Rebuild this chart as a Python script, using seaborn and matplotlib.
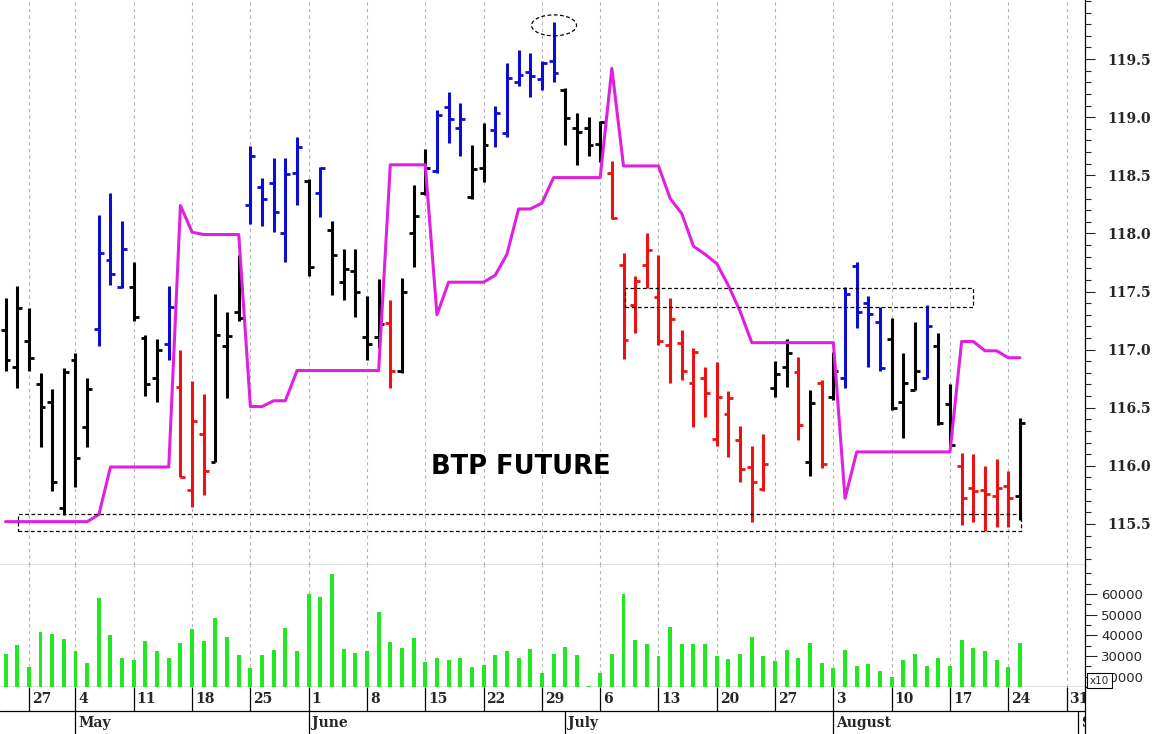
import numpy as np
import pandas as pd
import seaborn as sns
import matplotlib.pyplot as plt
from matplotlib.patches import Rectangle, Ellipse
from matplotlib.ticker import MultipleLocator

# trading calendar: 1 May closed, bars run 23 Apr .. 25 Aug
CALENDAR = pd.bdate_range('2015-04-23', '2015-09-04').drop(pd.Timestamp('2015-05-01'))

OPEN = [117.17, 116.85, 117.07, 116.70, 116.55, 115.64, 116.91, 116.33,
        117.18, 117.77, 117.54, 117.54, 117.10, 116.76, 117.05,
        116.68, 115.79, 116.27, 116.03, 117.03, 117.32,
        118.24, 118.40, 118.43, 118.00, 118.52, 118.45, 118.35,
        118.03, 117.58, 117.68, 117.11, 117.11, 117.23,
        116.82, 118.00, 118.35,
        118.54, 119.09, 118.91, 118.31, 118.56,
        118.89, 118.86, 119.30, 119.39, 119.33, 119.48,
        119.23, 118.91, 118.91, 118.77,
        118.52, 117.73, 117.38, 117.73, 117.45, 117.04, 117.06, 116.71, 116.76,
        116.23, 116.45, 116.22, 115.99, 115.80,
        116.67, 116.85, 116.81, 116.03, 116.71, 116.59,
        116.76, 117.72, 117.40, 117.24, 117.09, 116.55, 116.65, 116.76,
        117.03, 116.53,
        116.00, 115.81, 115.79, 115.74, 115.83, 115.74]
HIGH = [117.44, 117.55, 117.36, 116.80, 116.66, 116.84, 116.97, 116.76,
        118.16, 118.35, 118.11, 117.75, 117.13, 117.09, 117.55,
        117.00, 116.73, 116.62, 117.48, 117.32, 117.81,
        118.75, 118.48, 118.65, 118.65, 118.83, 118.47, 118.57,
        118.11, 117.87, 117.87, 117.46, 117.61, 117.43,
        117.62, 118.42, 118.73,
        119.06, 119.22, 119.12, 118.76, 118.95,
        119.10, 119.47, 119.58, 119.55, 119.48, 119.82,
        119.25, 119.04, 119.00, 118.97,
        118.62, 117.83, 117.63, 118.00, 117.81, 117.44, 117.17, 117.01, 116.85,
        116.89, 116.64, 116.34, 116.17, 116.27,
        116.90, 117.09, 116.94, 116.65, 116.74, 116.98,
        117.54, 117.75, 117.46, 117.37, 117.27, 116.97, 117.24, 117.38,
        117.14, 116.70,
        116.11, 116.10, 116.00, 116.06, 115.96, 116.41]
LOW = [116.82, 116.67, 116.82, 116.16, 115.78, 115.58, 115.82, 116.16,
       117.03, 117.56, 117.53, 117.25, 116.60, 116.55, 116.91,
       115.90, 115.65, 115.75, 116.03, 116.58, 117.25,
       118.08, 118.06, 118.01, 117.75, 118.24, 117.63, 118.14,
       117.47, 117.43, 117.28, 116.91, 117.01, 116.67,
       116.80, 117.71, 118.33,
       118.52, 118.78, 118.67, 118.30, 118.44,
       118.74, 118.83, 119.27, 119.17, 119.23, 119.30,
       118.76, 118.59, 118.67, 118.61,
       118.12, 116.92, 117.14, 117.53, 117.04, 116.71, 116.74, 116.33, 116.42,
       116.17, 116.08, 115.86, 115.52, 115.78,
       116.59, 116.68, 116.22, 115.91, 115.98, 116.57,
       116.67, 117.19, 116.85, 116.82, 116.48, 116.24, 116.65, 116.76,
       116.35, 116.18,
       115.49, 115.52, 115.44, 115.47, 115.47, 115.53]
CLOSE = [116.91, 117.36, 116.93, 116.51, 115.86, 116.81, 116.07, 116.66,
         117.83, 117.65, 117.87, 117.28, 116.70, 117.00, 117.37,
         115.90, 116.39, 115.96, 117.13, 117.12, 117.27,
         118.67, 118.30, 118.18, 118.51, 118.74, 117.71, 118.56,
         117.81, 117.69, 117.50, 117.05, 117.22, 116.82,
         117.50, 118.15, 118.56,
         119.02, 118.98, 118.98, 118.55, 118.76,
         119.04, 119.34, 119.36, 119.35, 119.47, 119.38,
         118.99, 118.87, 118.76, 118.96,
         118.13, 117.08, 117.59, 117.86, 117.07, 117.26, 116.82, 116.98, 116.63,
         116.59, 116.58, 115.97, 115.86, 116.02,
         116.79, 116.97, 116.35, 116.54, 116.02, 116.82,
         117.48, 117.32, 117.31, 116.84, 116.50, 116.71, 116.82, 117.20,
         116.37, 116.18,
         115.72, 115.78, 115.76, 115.81, 115.72, 116.37]
# k = neutral, b = up signal, r = down signal
BAR_STATE = list('kkkkkkkk' 'bbbkkkb' 'rrrkkk' 'bbbbbkb' 'kkkkkr' 'kkk' 'bbbkk'
                 'bbbbbb' 'kkkk' 'rrrrrrrrrrrrrr' 'kkrkrk' 'bbbbkkkb' 'kk' 'rrrrrk')
STOP_LINE = [115.52] * 8 + [115.58] + [115.99] * 6 + [118.24, 118.01] + [117.99] * 4 + \
            [116.51, 116.51, 116.56, 116.56] + [116.82] * 8 + [118.59] * 4 + [117.30] + \
            [117.58] * 4 + [117.64, 117.82, 118.21, 118.21, 118.26] + [118.48] * 5 + \
            [119.42] + [118.58] * 4 + [118.30, 118.17, 117.89, 117.82, 117.74, 117.55, 117.33] + \
            [117.06] * 8 + [115.72] + [116.12] * 9 + [117.07, 117.07, 116.99, 116.99, 116.93, 116.93]
VOLUME = [31000, 35200, 24800, 41600, 40700, 38100, 32600, 26800,
          57900, 40000, 29000, 28100, 37400, 32400, 29000,
          36400, 42900, 37300, 48400, 39000, 30300,
          24300, 30300, 32900, 43600, 32400, 60000, 58700,
          69700, 33200, 31600, 32600, 51100, 36600,
          33700, 38700, 27000,
          29000, 28200, 29000, 24800, 25500,
          30300, 32600, 29000, 33200, 21900, 30800,
          34400, 30300, 15700, 21900,
          30800, 59900, 37800, 35700, 30200, 43900, 35700, 35700, 35700,
          30000, 28400, 30800, 39000, 30200,
          27600, 32900, 28900, 36400, 26500, 24100,
          32900, 25200, 26000, 22800, 19700, 28100, 30800, 25300,
          28900, 25300,
          37800, 33700, 32400, 28100, 24500, 36400]
PRICE_TICKS = [115.5, 116.0, 116.5, 117.0, 117.5, 118.0, 118.5, 119.0, 119.5]
VOL_TICKS = [20000, 30000, 40000, 50000, 60000]

STATE_COLORS = {'k': '#000000', 'b': '#0c0cd2', 'r': '#ee1111'}
MAGENTA = '#e020e0'
GREEN = '#22e822'
GRID = '#b4b4b4'
XLIM = (-0.475, 92.58)

sns.set_style('white')
plt.rcParams['font.family'] = ['DejaVu Sans']

pos = np.arange(len(CLOSE))
colors = [STATE_COLORS[s] for s in BAR_STATE]
week_pos = [i for i in range(1, len(CALENDAR)) if CALENDAR[i].weekday() < CALENDAR[i - 1].weekday()]
month_pos = [i for i in range(1, len(CALENDAR)) if CALENDAR[i].month != CALENDAR[i - 1].month]

fig = plt.figure(figsize=(11.57, 7.34), dpi=100)
axP = fig.add_axes([0, 0.23025, 0.93777, 0.76975])
axV = fig.add_axes([0, 0.06403, 0.93777, 0.16621])
axD = fig.add_axes([0, 0, 0.93777, 0.06403])

for ax in (axP, axV):
    for p in week_pos:
        ax.axvline(p, color=GRID, lw=0.8, ls=(0, (3, 3)), zorder=0)

###############################################################################
# Price panel                                                                 #
###############################################################################

axP.vlines(pos, LOW, HIGH, colors=colors, lw=2.2, zorder=3)
axP.hlines(OPEN, pos - 0.42, pos, colors=colors, lw=2.0, zorder=3)
axP.hlines(CLOSE, pos, pos + 0.42, colors=colors, lw=2.0, zorder=3)
sns.lineplot(x=pos, y=STOP_LINE, ax=axP, color=MAGENTA, lw=2.2, estimator=None, zorder=4)

# annotations: support / resistance boxes and the top marker
axP.add_patch(Rectangle((1.1, 115.437), 86.0, 0.147, fill=False, ec='black', lw=0.9, ls=(0, (3, 2)), zorder=5))
axP.add_patch(Rectangle((53.13, 117.369), 29.87, 0.164, fill=False, ec='black', lw=0.9, ls=(0, (3, 2)), zorder=5))
axP.add_patch(Ellipse((47.04, 119.79), 3.86, 0.18, fill=False, ec='black', lw=0.9, ls=(0, (3, 2)), zorder=5))
axP.text(44.23, 115.99, 'BTP FUTURE', ha='center', va='center', fontsize=18.5,
         fontweight='bold', family='DejaVu Sans', color='black')

axP.set_xlim(*XLIM)
axP.set_ylim(115.147, 120.008)
axP.set_xticks([])
axP.yaxis.tick_right()
axP.set_yticks(PRICE_TICKS)
axP.set_yticklabels(['%.1f' % v for v in PRICE_TICKS])
axP.yaxis.set_minor_locator(MultipleLocator(0.1))
axP.tick_params(axis='y', which='major', length=7, width=0.8, pad=9, labelsize=10, right=True, left=False)
axP.tick_params(axis='y', which='minor', length=4.5, width=0.8, right=True, left=False)
for lbl in axP.get_yticklabels():
    lbl.set_fontfamily('DejaVu Serif')
    lbl.set_fontweight('bold')
axP.set_xlabel('')
axP.set_ylabel('')

###############################################################################
# Volume panel                                                                #
###############################################################################

sns.barplot(x=pos, y=VOLUME, ax=axV, native_scale=True, orient='x', width=0.34,
            color=GREEN, saturation=1, errorbar=None, linewidth=0, zorder=3)
axV.set_xlim(*XLIM)
axV.set_ylim(15000, 74000)
axV.set_xticks([])
axV.yaxis.tick_right()
axV.set_yticks(VOL_TICKS)
axV.set_yticklabels([str(v) for v in VOL_TICKS])
axV.yaxis.set_minor_locator(MultipleLocator(5000))
axV.tick_params(axis='y', which='major', length=8.5, width=0.8, pad=3, labelsize=9.5, right=True, left=False)
axV.tick_params(axis='y', which='minor', length=4, width=0.8, right=True, left=False)
axV.set_xlabel('')
axV.set_ylabel('')
fig.text(1090 / 1157, 1 - 685.5 / 734, 'x10', ha='left', va='bottom', fontsize=7.5,
         bbox=dict(boxstyle='square,pad=0.25', fc='white', ec='black', lw=0.8))

###############################################################################
# Date strip                                                                  #
###############################################################################

axD.set_xlim(*XLIM)
axD.set_ylim(0, 2)
axD.set_xticks([])
axD.set_yticks([])
axD.vlines(week_pos, 1, 2, color='black', lw=0.9)
axD.vlines(month_pos, 0, 1, color='black', lw=0.9)
axD.axhline(1, color='black', lw=0.9)
for p in week_pos:
    axD.text(p + 0.25, 1.48, str(CALENDAR[p].day), ha='left', va='center', fontsize=10,
             family='DejaVu Serif', fontweight='bold', clip_on=True)
for p in month_pos:
    axD.text(p + 0.25, 0.45, CALENDAR[p].strftime('%B'), ha='left', va='center', fontsize=10,
             family='DejaVu Serif', fontweight='bold', clip_on=True)

for ax in (axP, axV, axD):
    for side in ('left', 'top'):
        ax.spines[side].set_visible(False)
    ax.spines['right'].set_color('black')
    ax.spines['right'].set_linewidth(0.9)
    ax.spines['bottom'].set_color('black')
    ax.spines['bottom'].set_linewidth(0.9)
axD.spines['bottom'].set_visible(False)

fig.savefig('out.png', dpi=100)
